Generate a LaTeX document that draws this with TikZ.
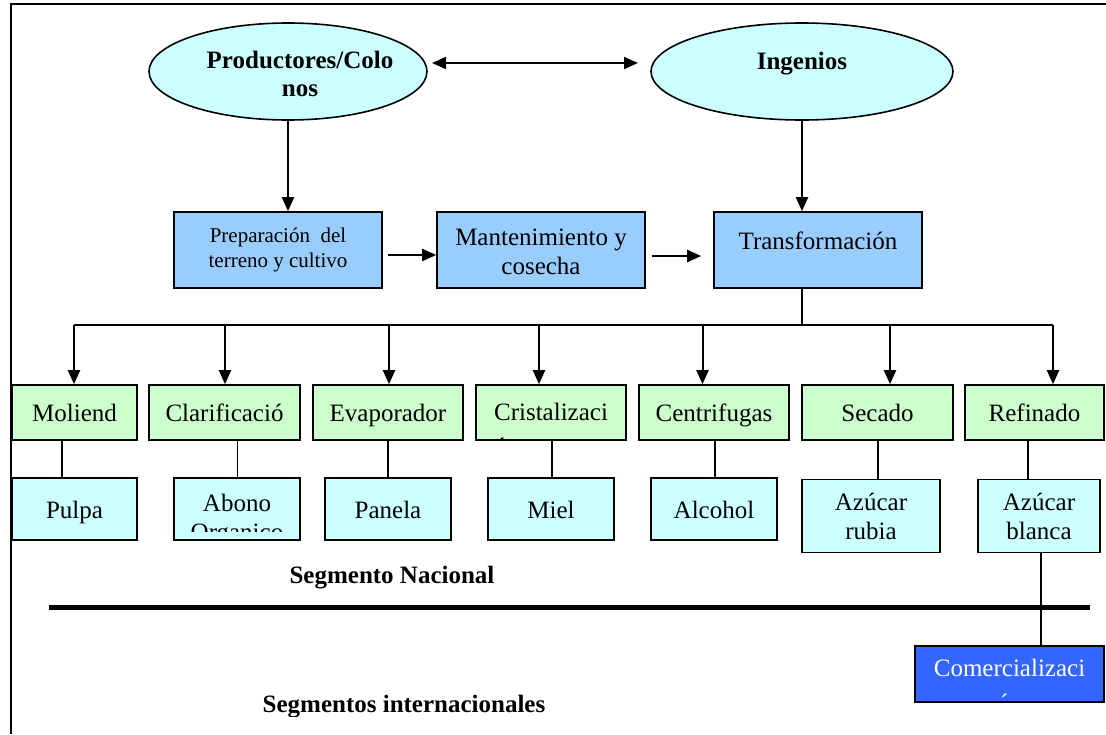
\documentclass[tikz,border=0pt]{standalone}
\usepackage{fontspec}
\setmainfont{Liberation Serif}
\usetikzlibrary{shapes.geometric,arrows.meta}
\definecolor{ovalfill}{HTML}{CCFFFF}
\definecolor{stepfill}{HTML}{99CCFF}
\definecolor{procfill}{HTML}{CCFFCC}
\definecolor{prodfill}{HTML}{CCFFFF}
\definecolor{salefill}{HTML}{3366FF}
\tikzset{
  oval/.style={ellipse, draw, line width=1.6pt, fill=ovalfill, minimum height=97pt},
  stepbox/.style={rectangle, draw, line width=1.6pt, fill=stepfill, minimum width=208pt, minimum height=76pt, inner sep=0pt},
  procbox/.style={rectangle, draw, line width=1.6pt, fill=procfill, minimum height=55pt, inner sep=0pt},
  prodbox/.style={rectangle, draw, line width=1.6pt, fill=prodfill, minimum height=62pt, inner sep=0pt},
  salebox/.style={rectangle, draw, line width=1.6pt, fill=salefill, minimum height=56pt, inner sep=0pt},
  bigtxt/.style={font=\fontsize{25}{29}\selectfont, align=center},
  onetxt/.style={bigtxt, text height=19pt, text depth=1pt},
  smalltxt/.style={font=\fontsize{21}{25}\selectfont, align=center},
  boldtxt/.style={font=\bfseries\fontsize{25}{28}\selectfont, align=center},
  arrow/.style={line width=2pt, -{Triangle[length=14pt,width=12pt]}},
  link/.style={line width=1.5pt},
}
\begin{document}
\begin{tikzpicture}[x=1pt,y=-1pt]
\useasboundingbox (0,0) rectangle (1106,734);
% frame
\coordinate (fl) at (11,734);
\coordinate (ft) at (11,4);
\coordinate (fr) at (1106,4);
\draw[line width=1.6pt] (fl) -- (ft) -- (fr);

% actors
\node[oval, minimum width=278pt] (prod) at (288,71.5) {};
\node[boldtxt] (prodtxt) at (300,74) {Productores/Colo\\nos};
\node[oval, minimum width=302pt] (ing) at (802,71.5) {};
\node[boldtxt] (ingtxt) at (802,64) {Ingenios};
\coordinate (dl) at (432,63);
\coordinate (dr) at (638,63);
\draw[line width=2pt, {Triangle[length=14pt,width=12pt]}-{Triangle[length=14pt,width=12pt]}] (dl) -- (dr);

% stages
\node[stepbox, smalltxt] (prep) at (278,250) {Preparación\ \ del\\terreno y cultivo};
\node[stepbox] (mant) at (541,250) {};
\node[bigtxt] (manttxt) at (541,252) {Mantenimiento y\\cosecha};
\node[stepbox] (trans) at (818,250) {};
\node[onetxt] (transtxt) at (818,240) {Transformación};
\draw[arrow] (prod.south) -- (prod.south |- prep.north);
\draw[arrow] (ing.south) -- (ing.south |- trans.north);
\coordinate (a1) at ([xshift=5pt,yshift=-5pt]prep.east);
\coordinate (a2) at ([xshift=6pt,yshift=-6pt]mant.east);
\draw[arrow] (a1) -- (a1 -| mant.west);
\draw[arrow] (a2) -- ([xshift=-12pt]a2 -| trans.west);

% processes
\node[procbox, onetxt, minimum width=125pt] (moli) at (74.5,412.5) {Moliend};
\node[procbox, onetxt, minimum width=151pt] (clar) at (224.5,412.5) {Clarificació};
\node[procbox, onetxt, minimum width=150pt] (evap) at (388,412.5) {Evaporador};
\node[procbox, minimum width=150pt] (crist) at (551,412.5) {};
\node[procbox, onetxt, minimum width=150pt] (cent) at (714,412.5) {Centrifugas};
\node[procbox, onetxt, minimum width=151pt] (seca) at (877.5,412.5) {Secado};
\node[procbox, onetxt, minimum width=139pt] (refi) at (1034.5,412.5) {Refinado};
\begin{scope}
  \clip (crist.north west) rectangle (crist.south east);
  \node[bigtxt, font=\fontsize{25}{35}\selectfont, align=left] (cristtxt) at (551,429) {Cristalizaci\\ón};
\end{scope}

% bus
\coordinate (tb) at (802,325);
\coordinate (b1) at (74,325);
\coordinate (b2) at (225,325);
\coordinate (b3) at (389,325);
\coordinate (b4) at (539,325);
\coordinate (b5) at (702.5,325);
\coordinate (b6) at (890,325);
\coordinate (b7) at (1053,325);
\draw[link] (tb |- trans.south) -- (tb);
\draw[link] (b1) -- (b7);
\draw[arrow] (b1) -- (b1 |- moli.north);
\draw[arrow] (b2) -- (b2 |- clar.north);
\draw[arrow] (b3) -- (b3 |- evap.north);
\draw[arrow] (b4) -- (b4 |- crist.north);
\draw[arrow] (b5) -- (b5 |- cent.north);
\draw[arrow] (b6) -- (b6 |- seca.north);
\draw[arrow] (b7) -- (b7 |- refi.north);

% products
\node[prodbox, onetxt, minimum width=125pt] (pulpa) at (74.5,509) {Pulpa};
\node[prodbox, minimum width=126pt] (abono) at (237,509) {};
\node[prodbox, onetxt, minimum width=126pt] (panela) at (388,509) {Panela};
\node[prodbox, onetxt, minimum width=126pt] (miel) at (551,509) {Miel};
\node[prodbox, onetxt, minimum width=126pt] (alco) at (714,509) {Alcohol};
\node[prodbox, bigtxt, minimum width=138pt, minimum height=73pt] (rubia) at (871,516) {Azúcar\\rubia};
\node[prodbox, bigtxt, minimum width=122pt, minimum height=73pt] (blanca) at (1039,516) {Azúcar\\blanca};
\begin{scope}
  \clip (abono.north west) rectangle ([yshift=9pt]abono.south east);
  \node[bigtxt] (abonotxt) at (237,520.5) {Abono\\Organico};
\end{scope}

\coordinate (d1) at (62,0);
\coordinate (d2) at (237.5,0);
\coordinate (d3) at (388,0);
\coordinate (d4) at (552,0);
\coordinate (d5) at (715,0);
\coordinate (d6) at (878,0);
\coordinate (d7) at (1028,0);
\coordinate (d8) at (1041,0);
\draw[link] (moli.south -| d1) -- (pulpa.north -| d1);
\draw[link] (clar.south -| d2) -- (abono.north -| d2);
\draw[link] (evap.south -| d3) -- (panela.north -| d3);
\draw[link] (crist.south -| d4) -- (miel.north -| d4);
\draw[link] (cent.south -| d5) -- (alco.north -| d5);
\draw[link] (seca.south -| d6) -- (rubia.north -| d6);
\draw[link] (refi.south -| d7) -- (blanca.north -| d7);

% segments
\node[boldtxt] (nac) at (392,578) {Segmento Nacional};
\coordinate (segl) at (49,607);
\coordinate (segr) at (1090,607);
\node[salebox, minimum width=189pt] (sale) at (1009.5,674) {};
\draw[link] (blanca.south -| d8) -- (sale.north -| d8);
\draw[line width=5pt] (segl) -- (segr);
\begin{scope}
  \clip (sale.north west) rectangle ([yshift=5pt]sale.south east);
  \node[bigtxt, font=\fontsize{25}{35}\selectfont, text=white] (saletxt) at (1009.5,685.5) {Comercializaci\\ón};
\end{scope}
\begin{scope}
  \clip (0,0) rectangle (1106,716);
  \node[boldtxt] (intl) at (404,707) {Segmentos internacionales};
\end{scope}
\end{tikzpicture}
\end{document}
